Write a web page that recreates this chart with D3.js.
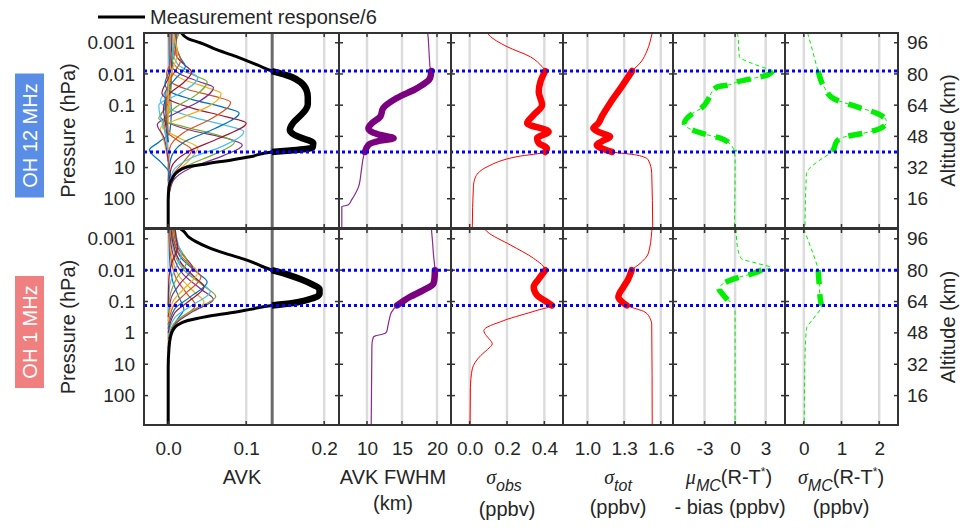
<!DOCTYPE html>
<html>
<head>
<meta charset="utf-8">
<script src="https://cdn.jsdelivr.net/npm/d3@7"></script>
<style>
  body { margin: 0; background: #fff; }
  text { font-family: "Liberation Sans", Arial, sans-serif; fill: #262626; }
</style>
</head>
<body>
<svg width="967" height="530"></svg>
<script>
// ---- data (altitude km, value) ----
const rowNames = ['OH 12 MHz', 'OH 1 MHz'];
const pressTicks = [0.001, 0.01, 0.1, 1, 10, 100];
const pressLabels = ['0.001', '0.01', '0.1', '1', '10', '100'];
const altTicks = [96, 80, 64, 48, 32, 16];
const xTicks = [[0, 0.1, 0.2], [10, 15, 20], [0, 0.2, 0.4], [1.0, 1.3, 1.6], [-3, 0, 3], [0, 1, 2]];
const xTickLabels = [['0.0', '0.1', '0.2'], ['10', '15', '20'], ['0.0', '0.2', '0.4'], ['1.0', '1.3', '1.6'], ['-3', '0', '3'], ['0', '1', '2']];
const respThreshold = 0.8 / 6;
const bounds12 = [40, 81.5];
const bounds1 = [62, 80];

// averaging kernels, 12 MHz
const avk12 = [
  [[15,0],[28,0.003],[35,-0.01],[41,-0.024],[45,-0.012],[50,0.002],[60,0.004],[75,0.002],[101,0.001]],
  [[15,0],[28,0.006],[35,0.02],[41,0.03],[46,0.012],[52,-0.005],[60,0],[80,0.003],[101,0.002]],
  [[15,0],[28,0.008],[35,0.025],[42,0.038],[47,0.015],[53,-0.008],[62,0.002],[85,0.004],[101,0.003]],
  [[15,0],[25,0.006],[32,0.03],[38,0.07],[43.5,0.095],[47,0.075],[51,0.03],[55,0],[58,-0.01],[65,0],[85,0.005],[101,0.004]],
  [[15,0],[26,0.005],[33,0.025],[39,0.06],[45,0.085],[49,0.06],[53,0.02],[57,-0.012],[62,-0.005],[75,0.004],[101,0.003]],
  [[18,0],[30,0.006],[37,0.03],[43,0.07],[50.5,0.097],[54,0.07],[58,0.03],[62,0.002],[66,-0.01],[75,0.002],[101,0.004]],
  [[20,0],[32,0.004],[40,0.025],[47,0.065],[54.8,0.1],[58,0.075],[62,0.035],[66,0.005],[70,-0.008],[80,0.002],[101,0.005]],
  [[25,0],[36,0.003],[45,0.02],[52,0.06],[60,0.091],[63,0.07],[67,0.03],[71,0.002],[75,-0.004],[85,0.005],[101,0.008]],
  [[30,0],[42,0.002],[50,0.02],[57,0.055],[65.5,0.08],[68.5,0.06],[72,0.025],[76,0.003],[80,-0.002],[90,0.008],[101,0.01]],
  [[35,0],[45,-0.005],[52,-0.01],[58,0.02],[63,0.05],[70,0.068],[73,0.05],[77,0.02],[82,0.003],[90,0.005],[101,0.009]],
  [[35,0],[48,-0.006],[54,-0.014],[60,0.01],[66,0.04],[73,0.058],[76,0.04],[80,0.015],[85,0.004],[101,0.012]],
  [[40,0],[50,-0.004],[56,-0.006],[63,0.01],[69,0.035],[76,0.05],[79,0.035],[83,0.012],[88,0.005],[101,0.014]],
  [[40,0],[52,-0.005],[58,-0.01],[64,-0.012],[70,0.015],[78,0.038],[81,0.028],[85,0.012],[92,0.006],[101,0.012]],
  [[45,0],[56,-0.004],[62,-0.006],[70,0.002],[75,0.018],[81,0.03],[85,0.02],[90,0.01],[101,0.01]],
  [[45,0],[60,-0.003],[70,-0.004],[77,0.008],[84,0.022],[88,0.016],[94,0.01],[101,0.009]],
  [[50,0],[65,-0.002],[75,0],[81,0.008],[87,0.016],[92,0.012],[101,0.008]],
  [[55,0],[70,0],[80,0.003],[85,0.008],[90,0.012],[95,0.01],[101,0.007]]
];
// averaging kernels, 1 MHz
const avk1 = [
  [[40,0],[50,0.005],[55,0.012],[60,0.02],[66,0.014],[74,0.006],[85,0.002],[101,0.001]],
  [[42,0],[51,0.006],[56,0.018],[62,0.035],[68,0.024],[76,0.01],[88,0.003],[101,0.001]],
  [[44,0],[52,0.008],[58,0.025],[63.5,0.046],[69,0.033],[77,0.014],[89,0.004],[101,0.002]],
  [[45,0],[53,0.01],[59,0.032],[65,0.058],[70,0.043],[78,0.019],[90,0.005],[101,0.002]],
  [[46,0],[54,0.01],[60,0.034],[66.5,0.061],[72,0.045],[80,0.02],[92,0.006],[101,0.003]],
  [[47,0],[56,0.009],[62,0.03],[69,0.054],[74,0.04],[82,0.018],[93,0.006],[101,0.004]],
  [[48,0],[58,0.008],[64,0.026],[71.5,0.046],[76,0.035],[84,0.016],[94,0.006],[101,0.004]],
  [[50,0],[60,0.008],[66,0.027],[74,0.05],[78.5,0.038],[86,0.017],[95,0.007],[101,0.005]],
  [[52,0],[62,0.007],[68,0.022],[76.5,0.042],[81,0.032],[88,0.015],[96,0.007],[101,0.005]],
  [[54,0],[64,0.006],[70,0.019],[79,0.038],[83,0.029],[90,0.014],[97,0.008],[101,0.006]],
  [[56,0],[66,0.004],[73,0.015],[81.5,0.031],[86,0.023],[92,0.012],[101,0.007]],
  [[58,0],[68,0.003],[76,0.011],[84.5,0.024],[89,0.018],[95,0.01],[101,0.008]],
  [[60,0],[72,0.002],[80,0.008],[88,0.017],[93,0.013],[101,0.009]],
  [[62,0],[76,0.001],[84,0.005],[92,0.012],[97,0.01],[101,0.009]]
];

// measurement response / 6
const resp12 = [[101,0.017],[98,0.026],[96,0.041],[92.3,0.063],[88.5,0.09],[84.5,0.115],[81.5,0.133],[78.5,0.158],[76,0.169],[72,0.177],[68,0.179],[64.5,0.179],[61.5,0.176],[58,0.168],[54.8,0.16],[51.3,0.156],[49,0.161],[47.5,0.169],[44.6,0.186],[42.2,0.185],[41,0.165],[40,0.133],[37.5,0.105],[36,0.083],[34,0.05],[32.3,0.024],[29.5,0.011],[27,0.006],[22,0.001],[15,0],[1,0]];
const resp1 = [[101,0.016],[99.8,0.02],[97,0.026],[94.7,0.035],[91.5,0.052],[88.7,0.072],[86.5,0.09],[84.4,0.106],[82,0.12],[80,0.133],[77.5,0.155],[75.4,0.17],[72.5,0.186],[70.4,0.194],[68,0.194],[66,0.188],[64.5,0.175],[63.2,0.16],[62,0.133],[60,0.105],[58.4,0.083],[56.4,0.05],[54.3,0.025],[52,0.012],[50,0.007],[46,0.003],[40,0.001],[30,0],[1,0]];

// AVK FWHM (km)
const fwhm12 = [[101,18.6],[100,18.7],[92,18.85],[86,18.95],[83.7,19.0],[81.5,19.2],[77.8,19.0],[72.6,17.1],[67.5,14.2],[62.4,12.3],[58.1,11.9],[54.7,10.7],[52.1,10.2],[50,10.8],[48.7,11.9],[47,13.8],[45.8,11.9],[43.6,10.2],[40,9.7],[37.6,9.5],[30.7,9.2],[22.2,8.8],[15.4,7.8],[12.8,7.3],[12,6.4],[1,6.4]];
const fwhm1 = [[101,19.2],[95,19.35],[87.7,19.5],[80,19.7],[76,19.65],[73.2,19.5],[69.7,18.0],[66.3,16.1],[62,14.3],[58.6,13.5],[55,13.2],[51.8,13.0],[48.5,12.8],[47.3,12.2],[46.5,11.2],[45.8,10.9],[41.5,10.7],[1,10.6]];

// sigma obs (ppbv)
const sobs12 = [[101,0.095],[100,0.103],[94,0.2],[88.8,0.325],[83.7,0.388],[81.5,0.405],[76,0.379],[70.9,0.37],[64.1,0.388],[59,0.343],[54.7,0.308],[50.4,0.423],[47,0.361],[44.5,0.37],[41.9,0.414],[40,0.405],[37.6,0.254],[32.4,0.094],[27.3,0.032],[22.2,0.02],[1,0.014]];
const sobs1 = [[101,0.08],[99.6,0.094],[92.8,0.219],[86,0.343],[80,0.405],[75.5,0.37],[71.4,0.343],[67.2,0.361],[64,0.41],[62,0.441],[59.5,0.361],[54.3,0.183],[49.2,0.076],[46.5,0.09],[44.1,0.112],[42.4,0.121],[39.5,0.095],[36.4,0.059],[29.6,0.014],[20,0.004],[1,0.002]];

// sigma tot (ppbv)
const stot12 = [[101,1.53],[100,1.526],[92.3,1.49],[85.5,1.43],[81.5,1.365],[73.5,1.28],[65,1.185],[58.1,1.117],[54.7,1.089],[52.1,1.048],[50,1.1],[47.8,1.185],[45.5,1.12],[43.6,1.076],[41.5,1.13],[40,1.2],[38.4,1.403],[35.9,1.498],[29,1.526],[1,1.534]];
const stot1 = [[101,1.528],[99.6,1.526],[88.5,1.498],[83.4,1.43],[80,1.362],[75,1.33],[71.4,1.294],[66.3,1.253],[64,1.28],[62,1.321],[58.6,1.471],[55,1.515],[52.6,1.526],[1,1.53]];

// mu MC (R-T*) - bias (ppbv)
const mumc12 = [[101,0.2],[100,0.26],[88.8,0.42],[86.3,1.25],[83.7,2.55],[81.5,3.7],[79.5,3.2],[78,2.0],[76,0.26],[74.3,-0.72],[73.5,-1.7],[70.1,-2.36],[68.3,-2.52],[62.4,-3.34],[59.8,-4.16],[54.7,-4.98],[53,-4.81],[48.7,-2.68],[47,-1.38],[44.4,-0.56],[40,-0.07],[35.9,0],[1,-0.07]];
const mumc1 = [[101,0.1],[92.8,0.2],[86,0.59],[83.4,2.23],[81.2,3.54],[80,2.6],[78.3,1.74],[75.7,-0.07],[72.3,-1.38],[70.5,-1.6],[68.8,-1.38],[62,-0.23],[58.6,0],[1,0]];

// sigma MC (R-T*) (ppbv)
const sigmc12 = [[101,0.1],[100,0.115],[90.6,0.25],[81.5,0.38],[72.6,0.56],[67.5,0.78],[63.2,1.4],[59.8,1.94],[55.5,2.2],[52.1,2.03],[49.6,1.58],[47.8,1.09],[45.3,0.87],[41,0.78],[40,0.74],[35.9,0.43],[29,0.07],[1,0.03]];
const sigmc1 = [[101,0],[92.8,0.16],[86,0.29],[80,0.38],[72.3,0.41],[65,0.44],[62,0.47],[55.2,0.25],[50.1,0.07],[34.7,0.03],[1,0.01]];

// ---- layout ----
const svg = d3.select('svg');
const altDomain = [1, 101];
const rows = [{ top: 33, bottom: 228 }, { top: 229, bottom: 425 }];
const panelX = [[144, 339], [339, 451], [451, 563], [563, 673], [673, 785], [785, 898]];
const xDomains = [[-0.031, 0.219], [6, 22], [-0.1, 0.5], [0.8, 1.7], [-6.1, 4.9], [-0.5, 2.5]];
const kernelColors = ['#0072BD', '#D95319', '#EDB120', '#7E2F8E', '#77AC30', '#4DBEEE', '#A2142F'];
const boxColors = ['#5a8ee6', '#f08080'];

const xs = panelX.map((r, i) => d3.scaleLinear().domain(xDomains[i]).range(r));
const ys = rows.map(r => d3.scaleLinear().domain(altDomain).range([r.bottom, r.top]));
// log-pressure altitude: z = 16 km * (3 - log10 p)
const ps = rows.map(r => d3.scaleLog()
  .domain([Math.pow(10, 3 - altDomain[0] / 16), Math.pow(10, 3 - altDomain[1] / 16)])
  .range([r.bottom, r.top]));

const defs = svg.append('defs');

const rowData = [
  { avk: avk12, resp: resp12, fwhm: fwhm12, sobs: sobs12, stot: stot12, mumc: mumc12, sigmc: sigmc12, bounds: bounds12 },
  { avk: avk1, resp: resp1, fwhm: fwhm1, sobs: sobs1, stot: stot1, mumc: mumc1, sigmc: sigmc1, bounds: bounds1 }
];

function drawSeries(g, x, y, pts, bounds, thin, thick) {
  const sorted = pts.slice().sort((a, b) => b[0] - a[0]);
  const line = d3.line().x(d => x(d[1])).y(d => y(d[0])).curve(d3.curveMonotoneY);
  const p = g.append('path').attr('d', line(sorted)).attr('fill', 'none');
  Object.entries(thin).forEach(([k, v]) => p.attr(k, v));
  if (bounds && thick) {
    const seg = sorted.filter(d => d[0] >= bounds[0] - 1e-6 && d[0] <= bounds[1] + 1e-6);
    const q = g.append('path').attr('d', line(seg)).attr('fill', 'none')
      .attr('stroke-linejoin', 'round');
    Object.entries(thick).forEach(([k, v]) => q.attr(k, v));
  }
}

rows.forEach((row, ri) => {
  const y = ys[ri];
  const rd = rowData[ri];

  panelX.forEach((px, pi) => {
    const x = xs[pi];
    const id = 'clip' + ri + '_' + pi;
    defs.append('clipPath').attr('id', id).append('rect')
      .attr('x', px[0]).attr('y', row.top).attr('width', px[1] - px[0]).attr('height', row.bottom - row.top);
    const g = svg.append('g').attr('clip-path', 'url(#' + id + ')');

    // grid
    g.selectAll('line.grid').data(xTicks[pi]).enter().append('line')
      .attr('x1', d => x(d)).attr('x2', d => x(d))
      .attr('y1', row.top).attr('y2', row.bottom)
      .attr('stroke', '#dcdcdc').attr('stroke-width', 2.5);

    if (pi === 0) {
      g.append('line')
        .attr('x1', x(respThreshold)).attr('x2', x(respThreshold))
        .attr('y1', row.top).attr('y2', row.bottom)
        .attr('stroke', '#6b6b6b').attr('stroke-width', 3);
      rd.avk.forEach((k, ki) => {
        drawSeries(g, x, y, k, null, { stroke: kernelColors[ki % 7], 'stroke-width': 1.2 });
      });
      drawSeries(g, x, y, rd.resp, rd.bounds,
        { stroke: '#000', 'stroke-width': 3 }, { stroke: '#000', 'stroke-width': 6.5 });
    }
    if (pi === 1) drawSeries(g, x, y, rd.fwhm, rd.bounds,
      { stroke: '#8b2a92', 'stroke-width': 1.2 }, { stroke: '#7a0080', 'stroke-width': 6.5, 'stroke-linecap': 'round' });
    if (pi === 2) drawSeries(g, x, y, rd.sobs, rd.bounds,
      { stroke: '#ff0000', 'stroke-width': 1 }, { stroke: '#ff0000', 'stroke-width': 6.5, 'stroke-linecap': 'round' });
    if (pi === 3) drawSeries(g, x, y, rd.stot, rd.bounds,
      { stroke: '#ff0000', 'stroke-width': 1 }, { stroke: '#ff0000', 'stroke-width': 6.5, 'stroke-linecap': 'round' });
    if (pi === 4) drawSeries(g, x, y, rd.mumc, rd.bounds,
      { stroke: '#00ee00', 'stroke-width': 1, 'stroke-dasharray': '4,3' },
      { stroke: '#00ee00', 'stroke-width': 5.5, 'stroke-dasharray': '14,10' });
    if (pi === 5) drawSeries(g, x, y, rd.sigmc, rd.bounds,
      { stroke: '#00ee00', 'stroke-width': 1, 'stroke-dasharray': '4,3' },
      { stroke: '#00ee00', 'stroke-width': 5.5, 'stroke-dasharray': '14,10' });

    // inward ticks
    const tk = svg.append('g').attr('stroke', '#333').attr('stroke-width', 1.5);
    altTicks.forEach(a => {
      tk.append('line').attr('x1', px[0]).attr('x2', px[0] + 4).attr('y1', y(a)).attr('y2', y(a));
      tk.append('line').attr('x1', px[1] - 4).attr('x2', px[1]).attr('y1', y(a)).attr('y2', y(a));
    });
    xTicks[pi].forEach(v => {
      tk.append('line').attr('x1', x(v)).attr('x2', x(v)).attr('y1', row.top).attr('y2', row.top + 4);
      tk.append('line').attr('x1', x(v)).attr('x2', x(v)).attr('y1', row.bottom - 4).attr('y2', row.bottom);
    });
  });

  // dotted response bounds
  svg.selectAll(null).data(rd.bounds).enter().append('line')
    .attr('x1', panelX[0][0]).attr('x2', panelX[5][1])
    .attr('y1', d => y(d)).attr('y2', d => y(d))
    .attr('stroke', '#0000ff').attr('stroke-width', 3).attr('stroke-dasharray', '3,3');

  // borders
  panelX.forEach(px => {
    svg.append('rect').attr('x', px[0]).attr('y', row.top)
      .attr('width', px[1] - px[0]).attr('height', row.bottom - row.top)
      .attr('fill', 'none').attr('stroke', '#333').attr('stroke-width', 2);
  });

  // left pressure axis
  const la = svg.append('g').attr('transform', 'translate(' + panelX[0][0] + ',0)')
    .call(d3.axisLeft(ps[ri]).tickValues(pressTicks).tickFormat((d, i) => pressLabels[i]).tickSize(0).tickPadding(9));
  la.select('.domain').remove();
  la.selectAll('text').style('font-size', '19px').attr('fill', '#262626');

  // right altitude axis
  const ra = svg.append('g').attr('transform', 'translate(' + panelX[5][1] + ',0)')
    .call(d3.axisRight(y).tickValues(altTicks).tickSize(0).tickPadding(9));
  ra.select('.domain').remove();
  ra.selectAll('text').style('font-size', '19px').attr('fill', '#262626');

  const cy = (row.top + row.bottom) / 2;
  svg.append('text').attr('transform', 'translate(75,' + cy + ') rotate(-90)')
    .attr('text-anchor', 'middle').style('font-size', '20px').text('Pressure (hPa)');
  svg.append('text').attr('transform', 'translate(955,' + cy + ') rotate(-90)')
    .attr('text-anchor', 'middle').style('font-size', '20px').text('Altitude (km)');

  const bh = ri === 0 ? 124 : 112;
  svg.append('rect').attr('x', 15).attr('y', cy + 6 - bh / 2 - 1).attr('width', 29).attr('height', bh)
    .attr('fill', boxColors[ri]);
  svg.append('text').attr('transform', 'translate(36.5,' + (cy + 5) + ') rotate(-90)')
    .attr('text-anchor', 'middle').style('font-size', '20px').style('fill', '#fff').text(rowNames[ri]);
});

// bottom tick labels
panelX.forEach((px, pi) => {
  const ba = svg.append('g').attr('transform', 'translate(0,' + rows[1].bottom + ')')
    .call(d3.axisBottom(xs[pi]).tickValues(xTicks[pi]).tickFormat((d, i) => xTickLabels[pi][i]).tickSize(0).tickPadding(17));
  ba.select('.domain').remove();
  ba.selectAll('text').style('font-size', '19px').attr('fill', '#262626');
});

// axis titles
const lab = svg.append('g').style('font-size', '20px');
lab.append('text').attr('x', 242).attr('y', 484).attr('text-anchor', 'middle').text('AVK');
lab.append('text').attr('x', 393).attr('y', 484).attr('text-anchor', 'middle').text('AVK FWHM');
lab.append('text').attr('x', 393).attr('y', 510).attr('text-anchor', 'middle').text('(km)');

function sigmaLabel(cx, sym, sub, tail) {
  const t = lab.append('text').attr('x', cx).attr('y', 484).attr('text-anchor', 'middle');
  t.append('tspan').style('font-family', '"Liberation Serif", serif').style('font-style', 'italic').text(sym);
  t.append('tspan').attr('dy', 7).style('font-style', 'italic').style('font-size', '16px').text(sub);
  if (tail) {
    t.append('tspan').attr('dy', -7).text('(R-T');
    t.append('tspan').attr('dy', -8).style('font-size', '12px').text('*');
    t.append('tspan').attr('dy', 8).text(')');
  }
}
sigmaLabel(504, 'σ', 'obs', false);
lab.append('text').attr('x', 507).attr('y', 516).attr('text-anchor', 'middle').text('(ppbv)');
sigmaLabel(618, 'σ', 'tot', false);
lab.append('text').attr('x', 618).attr('y', 514).attr('text-anchor', 'middle').text('(ppbv)');
sigmaLabel(729, 'μ', 'MC', true);
lab.append('text').attr('x', 730).attr('y', 514).attr('text-anchor', 'middle').text('- bias (ppbv)');
sigmaLabel(841, 'σ', 'MC', true);
lab.append('text').attr('x', 841).attr('y', 514).attr('text-anchor', 'middle').text('(ppbv)');

// legend
svg.append('line').attr('x1', 98).attr('x2', 145).attr('y1', 17).attr('y2', 17)
  .attr('stroke', '#000').attr('stroke-width', 3);
svg.append('text').attr('x', 150).attr('y', 24).style('font-size', '20px').text('Measurement response/6');
</script>
</body>
</html>
